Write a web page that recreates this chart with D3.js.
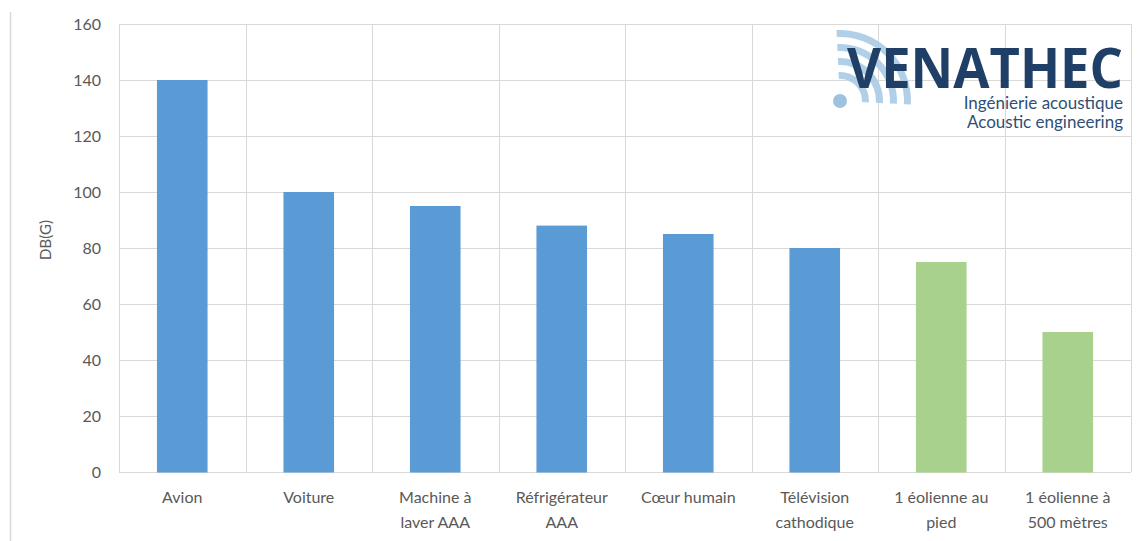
<!DOCTYPE html>
<html><head><meta charset="utf-8">
<script src="https://cdn.jsdelivr.net/npm/d3@7"></script>
<style>body{margin:0;background:#fff}svg{display:block;font-family:Lato,"Open Sans",sans-serif}</style>
</head><body>
<svg id="c" width="1142" height="541"></svg>
<script>
const categories = ["Avion","Voiture","Machine à|laver AAA","Réfrigérateur|AAA","Cœur humain","Télévision|cathodique","1 éolienne au|pied","1 éolienne à|500 mètres"];
const values = [140,100,95,88,85,80,75,50];
const groups = ["a","a","a","a","a","a","b","b"];
const yTicks = [0,20,40,60,80,100,120,140,160];
const yLabel = "DB(G)";
const colors = {a:"#5B9BD5", b:"#A9D18E"};

const svg = d3.select("#c");
const L=119,R=1131,T=24,B=472;
const x = d3.scaleBand().domain(categories).range([L,R]).paddingInner(0.6).paddingOuter(0.3);
const xb = d3.scaleBand().domain(categories).range([L,R]);
const y = d3.scaleLinear().domain([0,160]).range([B,T]);

// outer border line
svg.append("line").attr("x1",10.5).attr("x2",10.5).attr("y1",12).attr("y2",541).attr("stroke","#d9d9d9").attr("stroke-width",1.5);

// horizontal gridlines
svg.append("g").selectAll("line").data(yTicks).join("line")
  .attr("x1",L).attr("x2",R).attr("y1",d=>Math.round(y(d))+0.5).attr("y2",d=>Math.round(y(d))+0.5)
  .attr("stroke","#d9d9d9");
// vertical gridlines
const vx = categories.map(c=>xb(c)).concat([R]);
svg.append("g").selectAll("line").data(vx).join("line")
  .attr("x1",d=>Math.round(d)+0.5).attr("x2",d=>Math.round(d)+0.5).attr("y1",T).attr("y2",B)
  .attr("stroke","#d9d9d9");

// logo
const logo = svg.append("g");
const cx=840, cy=101;
logo.append("circle").attr("cx",cx).attr("cy",cy).attr("r",7).attr("fill","#9EC3E1");
[22,36,50,64].forEach((r,i)=>{
  logo.append("path").attr("d",d3.arc()({innerRadius:r,outerRadius:r+7,startAngle:-0.05,endAngle:Math.PI/2+0.05}))
    .attr("transform",`translate(${cx},${cy})`).attr("fill","#A9CBE6").attr("opacity",0.9);
});
logo.append("text").attr("x",1123).attr("y",88).attr("text-anchor","end")
  .attr("font-family","Open Sans, sans-serif").attr("font-weight",700).attr("font-size",55)
  .attr("fill","#1F3F66").attr("textLength",276).attr("lengthAdjust","spacingAndGlyphs").text("VENATHEC");
logo.append("text").attr("x",1123).attr("y",109).attr("text-anchor","end")
  .attr("font-size",17).attr("fill","#2F4F75").text("Ingénierie acoustique");
logo.append("text").attr("x",1123).attr("y",128).attr("text-anchor","end")
  .attr("font-size",17).attr("fill","#2F4F75").text("Acoustic engineering");

// bars
svg.append("g").selectAll("rect").data(values).join("rect")
  .attr("x",(d,i)=>x(categories[i])).attr("width",x.bandwidth())
  .attr("y",d=>y(d)).attr("height",d=>B-y(d)+0.5)
  .attr("fill",(d,i)=>colors[groups[i]]);

// y tick labels
svg.append("g").selectAll("text").data(yTicks).join("text")
  .attr("x",101).attr("y",d=>y(d)).attr("dy","0.35em").attr("text-anchor","end")
  .attr("font-size",16).attr("fill","#595959").text(d=>d);

// y label
svg.append("text").attr("transform","translate(46,240) rotate(-90)").attr("text-anchor","middle")
  .attr("dy","0.35em").attr("font-size",15).attr("fill","#595959").text(yLabel);

// x labels
const xl = svg.append("g").selectAll("text").data(categories).join("text")
  .attr("text-anchor","middle").attr("font-size",16).attr("fill","#595959");
xl.each(function(c){
  const t=d3.select(this); const cxm = xb(c)+xb.bandwidth()/2;
  c.split("|").forEach((s,i)=>t.append("tspan").attr("x",cxm).attr("y",503+i*25).text(s));
});
</script>
</body></html>
